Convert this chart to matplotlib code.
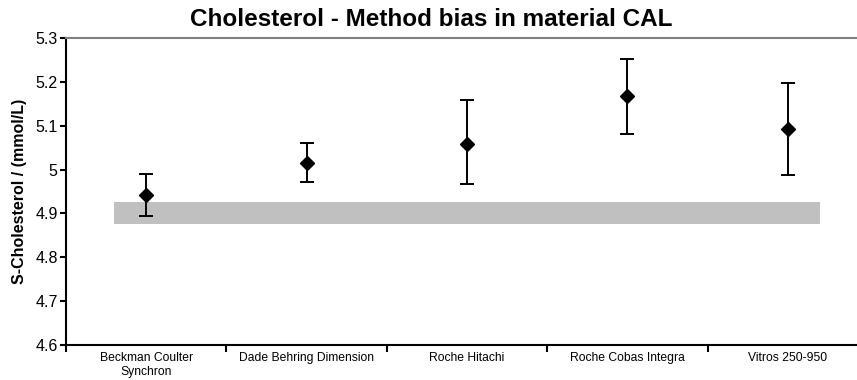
import numpy as np
import matplotlib.pyplot as plt

plt.rcParams['font.family'] = ['Liberation Sans', 'DejaVu Sans']

methods = ['Beckman Coulter\nSynchron', 'Dade Behring Dimension', 'Roche Hitachi',
           'Roche Cobas Integra', 'Vitros 250-950']
bias_mean = [4.943, 5.015, 5.059, 5.168, 5.092]
ci_low = [4.894, 4.971, 4.966, 5.081, 4.987]
ci_high = [4.991, 5.061, 5.159, 5.252, 5.198]

target_low = 4.875
target_high = 4.926


def show():
    fig = plt.figure(figsize=(8.57, 3.8), dpi=100)
    # axes runs slightly past the right edge like the original
    ax = fig.add_axes([66 / 857, 1 - 345 / 380, 802 / 857, 307 / 380])

    x = np.arange(1, len(methods) + 1)
    mean = np.array(bias_mean)
    yerr = [mean - np.array(ci_low), np.array(ci_high) - mean]

    ax.fill_between([0.8, 5.2], target_low, target_high, color='#c0c0c0', lw=0, zorder=1)
    ax.errorbar(x, mean, yerr=yerr, fmt='D', color='black', ms=7, elinewidth=1.4,
                capsize=5, capthick=1.4, zorder=3)

    ax.set_xlim(0.5, 5.5)
    ax.set_ylim(4.6, 5.3)
    ax.set_yticks([4.6, 4.7, 4.8, 4.9, 5.0, 5.1, 5.2, 5.3])
    ax.set_yticklabels(['4.6', '4.7', '4.8', '4.9', '5', '5.1', '5.2', '5.3'], fontsize=11.5)

    ax.set_xticks(x)
    ax.set_xticklabels(methods, fontsize=8.7)
    ax.set_xticks(np.arange(0.5, 6, 1), minor=True)
    ax.tick_params(axis='x', which='major', length=0, pad=5)
    ax.tick_params(axis='x', which='minor', length=5, width=1.5, direction='out')
    ax.tick_params(axis='y', length=4, width=1.5, direction='out', pad=2)

    ax.spines['right'].set_visible(False)
    ax.spines['top'].set_color('#808080')
    ax.spines['top'].set_linewidth(1.5)
    ax.spines['left'].set_linewidth(1.5)
    ax.spines['bottom'].set_linewidth(1.5)

    ax.set_ylabel('S-Cholesterol / (mmol/L)', fontsize=11.5, fontweight='bold', labelpad=6)
    fig.text(0.503, 0.95, 'Cholesterol - Method bias in material CAL',
             ha='center', va='center', fontsize=17.5, fontweight='bold')

    fig.savefig('out.png', dpi=100)


if __name__ == '__main__':
    show()
